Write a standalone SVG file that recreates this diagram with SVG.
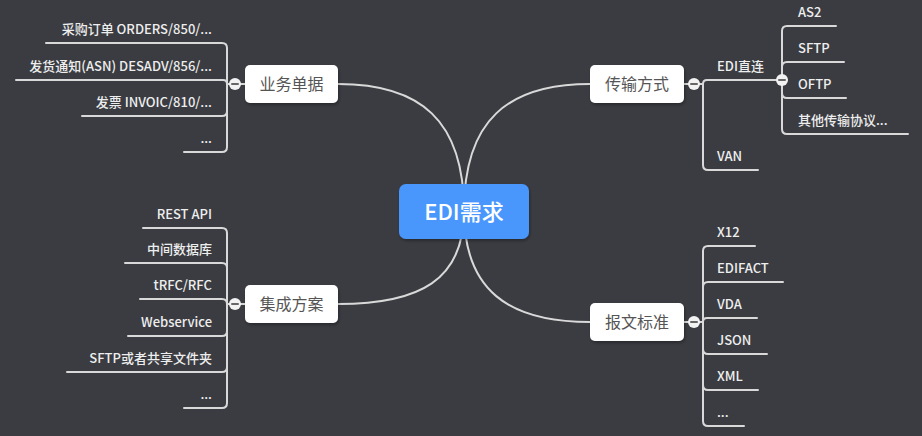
<svg xmlns="http://www.w3.org/2000/svg" width="922" height="436" viewBox="0 0 922 436">
<style>
.ln{fill:none;stroke:#d9d9d9;stroke-width:2;stroke-linecap:round}
.main{fill:none;stroke:#d9d9d9;stroke-width:2}
.box{fill:#ffffff;filter:url(#sh)}
.nt{font-family:"Noto Sans CJK SC","Noto Sans",sans-serif;font-size:16px;fill:#555555;text-anchor:middle}
.ct{font-family:"Noto Sans CJK SC","Noto Sans",sans-serif;font-size:22px;font-weight:500;fill:#ffffff;text-anchor:middle}
.lt{font-family:"Noto Sans CJK SC","Noto Sans",sans-serif;font-size:13px;font-weight:500;fill:#eeeeee}
.le{text-anchor:end}
.cc{fill:#f2f2f2}
.mn{stroke:#666;stroke-width:2;stroke-linecap:round}
</style>
<defs>
<filter id="sh" x="-20%" y="-20%" width="140%" height="160%">
<feDropShadow dx="1" dy="2" stdDeviation="1.5" flood-color="#000" flood-opacity="0.3"/>
</filter>
</defs>
<rect width="922" height="436" fill="#3a3c41"/>
<g id="connectors">
<path class="main" d="M464 211 C464 120 420 84 338 84"/>
<path class="main" d="M464 211 C464 280 420 304 338 304"/>
<path class="main" d="M464 211 C464 120 508 84 590 84"/>
<path class="main" d="M464 211 C464 290 508 322 590 322"/>
<path class="ln" d="M245 84 H227"/>
<path class="ln" d="M227 84 V48 Q227 43 222 43 H46"/>
<path class="ln" d="M227 84 Q227 80 223 80 H16"/>
<path class="ln" d="M227 84 V111 Q227 116 222 116 H82"/>
<path class="ln" d="M227 84 V147 Q227 152 222 152 H184"/>
<path class="ln" d="M245 304 H227"/>
<path class="ln" d="M227 304 V233 Q227 228 222 228 H143"/>
<path class="ln" d="M227 304 V268 Q227 263 222 263 H125"/>
<path class="ln" d="M227 304 Q227 299 222 299 H140"/>
<path class="ln" d="M227 304 V331 Q227 336 222 336 H128"/>
<path class="ln" d="M227 304 V367 Q227 372 222 372 H67"/>
<path class="ln" d="M227 304 V403 Q227 408 222 408 H184"/>
<path class="ln" d="M684 84 H703"/>
<path class="ln" d="M703 84 Q703 80 707 80 H782"/>
<path class="ln" d="M703 84 V165 Q703 170 708 170 H758"/>
<path class="ln" d="M782 80 V31 Q782 26 787 26 H836"/>
<path class="ln" d="M782 80 V67 Q782 62 787 62 H844"/>
<path class="ln" d="M782 80 V93 Q782 98 787 98 H846"/>
<path class="ln" d="M782 80 V129 Q782 134 787 134 H908"/>
<path class="ln" d="M684 322 H703"/>
<path class="ln" d="M703 322 V251 Q703 246 708 246 H755"/>
<path class="ln" d="M703 322 V287 Q703 282 708 282 H783"/>
<path class="ln" d="M703 322 Q703 318 707 318 H757"/>
<path class="ln" d="M703 322 V349 Q703 354 708 354 H767"/>
<path class="ln" d="M703 322 V385 Q703 390 708 390 H758"/>
<path class="ln" d="M703 322 V421 Q703 426 708 426 H744"/>
</g>
<g id="center">
<rect x="399" y="184" width="130" height="55" rx="7" fill="#4a97fd" filter="url(#sh)"/>
<text class="ct" x="464" y="220">EDI需求</text>
</g>
<g id="n-yewu">
<rect class="box" x="245" y="65" width="93" height="38" rx="5"/>
<text class="nt" x="291.5" y="90">业务单据</text>
<circle class="cc" cx="235" cy="84" r="6"/><path class="mn" d="M232 84 H238"/>
</g>
<g id="n-jicheng">
<rect class="box" x="245" y="285" width="93" height="38" rx="5"/>
<text class="nt" x="291.5" y="310">集成方案</text>
<circle class="cc" cx="235" cy="304" r="6"/><path class="mn" d="M232 304 H238"/>
</g>
<g id="n-chuanshu">
<rect class="box" x="590" y="65" width="94" height="38" rx="5"/>
<text class="nt" x="637" y="90">传输方式</text>
<circle class="cc" cx="694" cy="84" r="6"/><path class="mn" d="M691 84 H697"/>
</g>
<g id="n-baowen">
<rect class="box" x="590" y="303" width="94" height="38" rx="5"/>
<text class="nt" x="637" y="328">报文标准</text>
<circle class="cc" cx="694" cy="322" r="6"/><path class="mn" d="M691 322 H697"/>
</g>
<g id="leaves-yewu">
<text class="lt le" x="212" y="34">采购订单 ORDERS/850/...</text>
<text class="lt le" x="212" y="71">发货通知(ASN) DESADV/856/...</text>
<text class="lt le" x="212" y="107">发票 INVOIC/810/...</text>
<text class="lt le" x="212" y="143">...</text>
</g>
<g id="leaves-jicheng">
<text class="lt le" x="212" y="219">REST API</text>
<text class="lt le" x="212" y="254">中间数据库</text>
<text class="lt le" x="212" y="290">tRFC/RFC</text>
<text class="lt le" x="212" y="327">Webservice</text>
<text class="lt le" x="212" y="363">SFTP或者共享文件夹</text>
<text class="lt le" x="212" y="399">...</text>
</g>
<g id="leaves-chuanshu">
<text class="lt" x="717" y="71">EDI直连</text>
<text class="lt" x="717" y="161">VAN</text>
</g>
<g id="n-edi">
<circle class="cc" cx="782" cy="80" r="6"/><path class="mn" d="M779 80 H785"/>
<text class="lt" x="798" y="17">AS2</text>
<text class="lt" x="798" y="53">SFTP</text>
<text class="lt" x="798" y="89">OFTP</text>
<text class="lt" x="798" y="125">其他传输协议...</text>
</g>
<g id="leaves-baowen">
<text class="lt" x="717" y="237">X12</text>
<text class="lt" x="717" y="273">EDIFACT</text>
<text class="lt" x="717" y="309">VDA</text>
<text class="lt" x="717" y="345">JSON</text>
<text class="lt" x="717" y="381">XML</text>
<text class="lt" x="717" y="417">...</text>
</g>
</svg>
